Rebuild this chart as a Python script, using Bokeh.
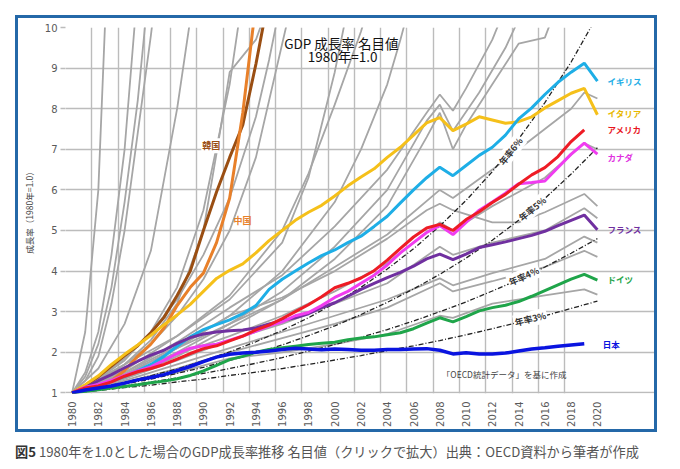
import math
from bokeh.plotting import figure
from bokeh.layouts import column
from bokeh.models import Range1d, FixedTicker, Label, Div
from bokeh.embed import file_html
from bokeh.resources import INLINE

# ---------------- data (ratio to 1980 = 1.0) ----------------
YEARS = list(range(1980, 2021))
YEARS_TO_2019 = list(range(1980, 2020))

japan = [1.00, 1.07, 1.12, 1.17, 1.24, 1.32, 1.38, 1.45, 1.55, 1.65, 1.77, 1.88, 1.95, 1.98, 2.00,
         2.03, 2.07, 2.10, 2.08, 2.06, 2.08, 2.07, 2.05, 2.05, 2.07, 2.07, 2.08, 2.09, 2.05, 1.96,
         1.99, 1.96, 1.96, 1.98, 2.03, 2.08, 2.11, 2.15, 2.18, 2.21]
germany = [1.00, 1.04, 1.08, 1.12, 1.16, 1.20, 1.25, 1.29, 1.35, 1.43, 1.54, 1.68, 1.82, 1.90, 2.00,
           2.07, 2.11, 2.15, 2.19, 2.22, 2.25, 2.31, 2.35, 2.38, 2.43, 2.48, 2.58, 2.72, 2.85, 2.75,
           2.88, 3.02, 3.10, 3.16, 3.25, 3.38, 3.52, 3.66, 3.80, 3.92, 3.78]
france = [1.00, 1.13, 1.30, 1.45, 1.62, 1.78, 1.93, 2.05, 2.22, 2.36, 2.45, 2.50, 2.53, 2.55, 2.60,
          2.70, 2.78, 2.85, 2.95, 3.10, 3.22, 3.38, 3.55, 3.70, 3.84, 3.97, 4.12, 4.30, 4.42, 4.28,
          4.42, 4.58, 4.65, 4.72, 4.80, 4.88, 4.98, 5.12, 5.25, 5.38, 5.02]
canada = [1.00, 1.14, 1.21, 1.31, 1.43, 1.54, 1.64, 1.80, 1.97, 2.10, 2.16, 2.20, 2.30, 2.40, 2.52,
          2.65, 2.75, 2.90, 2.98, 3.15, 3.35, 3.50, 3.70, 3.90, 4.15, 4.45, 4.70, 4.95, 5.12, 4.90,
          5.20, 5.50, 5.70, 5.92, 6.15, 6.18, 6.22, 6.55, 6.88, 7.15, 6.88]
usa = [1.00, 1.12, 1.17, 1.27, 1.41, 1.52, 1.60, 1.70, 1.83, 1.97, 2.09, 2.16, 2.28, 2.40, 2.55,
       2.67, 2.83, 3.00, 3.17, 3.37, 3.59, 3.70, 3.83, 4.01, 4.27, 4.56, 4.84, 5.06, 5.15, 5.00,
       5.27, 5.46, 5.69, 5.89, 6.14, 6.37, 6.55, 6.82, 7.19, 7.48]
italy = [1.00, 1.20, 1.42, 1.70, 1.95, 2.18, 2.42, 2.68, 2.92, 3.18, 3.50, 3.82, 4.02, 4.18, 4.45,
         4.75, 5.00, 5.25, 5.45, 5.62, 5.85, 6.10, 6.32, 6.52, 6.80, 7.05, 7.35, 7.65, 7.78, 7.46,
         7.62, 7.80, 7.72, 7.64, 7.68, 7.80, 8.02, 8.20, 8.38, 8.50, 7.85]
uk = [1.00, 1.09, 1.19, 1.29, 1.40, 1.55, 1.70, 1.90, 2.15, 2.38, 2.56, 2.68, 2.80, 2.95, 3.15,
      3.55, 3.80, 4.00, 4.20, 4.38, 4.52, 4.70, 4.86, 5.10, 5.35, 5.68, 6.00, 6.30, 6.56, 6.35,
      6.60, 6.85, 7.05, 7.35, 7.75, 8.02, 8.35, 8.65, 8.90, 9.12, 8.68]
KOREA_YEARS = list(range(1980, 1996))
korea = [1.00, 1.18, 1.40, 1.66, 1.92, 2.16, 2.48, 2.86, 3.40, 4.00, 5.00, 5.95, 6.80, 7.60, 9.10, 10.80]
CHINA_YEARS = list(range(1980, 1995))
china = [1.00, 1.06, 1.15, 1.30, 1.55, 1.90, 2.20, 2.60, 3.15, 3.60, 3.95, 4.70, 5.80, 7.90, 10.60]

# reference annual-rate lines, read every two years
RATE_YEARS = list(range(1980, 2021, 2))
rate6 = [1.00, 1.12, 1.26, 1.42, 1.59, 1.79, 2.01, 2.26, 2.54, 2.85, 3.21, 3.60, 4.05, 4.55, 5.11,
         5.74, 6.45, 7.25, 8.15, 9.15, 10.29]
rate5 = [1.00, 1.10, 1.22, 1.34, 1.48, 1.63, 1.80, 1.98, 2.18, 2.41, 2.65, 2.93, 3.23, 3.56, 3.92,
         4.32, 4.76, 5.25, 5.79, 6.39, 7.04]
rate4 = [1.00, 1.08, 1.17, 1.27, 1.37, 1.48, 1.60, 1.73, 1.87, 2.03, 2.19, 2.37, 2.56, 2.77, 3.00,
         3.24, 3.51, 3.79, 4.10, 4.44, 4.80]
rate3 = [1.00, 1.06, 1.13, 1.19, 1.27, 1.34, 1.43, 1.51, 1.60, 1.70, 1.81, 1.92, 2.04, 2.16, 2.29,
         2.43, 2.58, 2.74, 2.90, 3.08, 3.26]

# other OECD countries (grey)
oth_s1_x = [1980, 1981, 1982, 1983]
oth_s1_y = [1.0, 2.5, 6.0, 14.0]
oth_s2_x = [1980, 1981, 1982, 1983, 1984, 1985]
oth_s2_y = [1.0, 1.5, 2.5, 4.4, 7.0, 11.0]
oth_s3_x = [1980, 1981, 1982, 1983, 1984, 1985, 1986]
oth_s3_y = [1.0, 1.4, 2.2, 3.6, 5.7, 8.2, 11.5]
oth_s4_x = [1980, 1981, 1982, 1983, 1984, 1985, 1986, 1987]
oth_s4_y = [1.0, 1.3, 1.9, 3.2, 5.0, 7.4, 9.8, 12.5]
oth_s5_x = [1980, 1982, 1984, 1986, 1988, 1989, 1990]
oth_s5_y = [1.0, 1.6, 2.7, 4.5, 8.0, 10.2, 12.5]
oth_m1_x = [1980, 1982, 1984, 1986, 1988, 1990, 1992, 1993]
oth_m1_y = [1.0, 1.35, 1.8, 2.5, 3.6, 5.5, 8.6, 10.8]
oth_m2_x = [1980, 1982, 1984, 1986, 1988, 1990, 1991, 1992, 1993, 1994, 1995]
oth_m2_y = [1.0, 1.3, 1.7, 2.3, 3.2, 5.0, 6.9, 8.9, 9.3, 9.7, 10.6]
oth_m3_x = [1980, 1982, 1984, 1986, 1988, 1990, 1992, 1994, 1995, 1996]
oth_m3_y = [1.0, 1.35, 1.85, 2.5, 3.3, 4.4, 5.8, 7.8, 9.2, 10.8]
oth_m4_x = [1980, 1982, 1984, 1986, 1988, 1990, 1992, 1994, 1996, 1997]
oth_m4_y = [1.0, 1.3, 1.7, 2.2, 2.9, 3.8, 5.0, 6.8, 9.6, 11.0]
oth_m5_x = [1980, 1984, 1988, 1992, 1996, 1998, 2000, 2002, 2003]
oth_m5_y = [1.0, 1.55, 2.4, 3.4, 5.0, 6.4, 8.1, 9.9, 11.0]
oth_m6_x = [1980, 1984, 1988, 1992, 1996, 2000, 2002, 2004, 2005, 2006]
oth_m6_y = [1.0, 1.45, 2.1, 2.9, 4.0, 5.7, 7.0, 8.6, 9.7, 10.9]
oth_m7_x = [1980, 1984, 1988, 1992, 1996, 1998, 2000, 2001]
oth_m7_y = [1.0, 1.7, 2.4, 3.3, 4.7, 6.3, 8.9, 10.5]
oth_b1_x = [1980, 1984, 1988, 1992, 1996, 2000, 2004, 2007, 2008, 2009, 2010, 2012, 2013]
oth_b1_y = [1.0, 1.5, 2.25, 3.1, 3.9, 5.1, 6.5, 7.9, 8.35, 7.95, 8.5, 9.7, 10.5]
oth_b2_x = [1980, 1984, 1988, 1992, 1996, 2000, 2004, 2007, 2008, 2009, 2011, 2013, 2014]
oth_b2_y = [1.0, 1.4, 2.0, 2.7, 3.5, 4.6, 6.0, 7.7, 8.1, 7.45, 8.4, 9.5, 10.2]
oth_b3_x = [1980, 1984, 1988, 1992, 1996, 2000, 2004, 2007, 2008, 2009, 2010, 2012, 2014, 2016, 2017]
oth_b3_y = [1.0, 1.35, 1.9, 2.6, 3.3, 4.3, 5.6, 7.3, 7.9, 7.0, 7.6, 8.6, 9.6, 9.75, 10.6]
oth_b4_x = [1980, 1984, 1988, 1992, 1996, 2000, 2004, 2008, 2009, 2012, 2014, 2016, 2018, 2019, 2020]
oth_b4_y = [1.0, 1.45, 2.1, 2.7, 3.3, 4.1, 4.9, 6.0, 5.8, 6.5, 7.0, 7.5, 8.0, 8.4, 8.25]
oth_e1_x = [1980, 1984, 1988, 1992, 1996, 2000, 2004, 2008, 2009, 2012, 2016, 2019, 2020]
oth_e1_y = [1.0, 1.4, 1.95, 2.4, 2.9, 3.5, 4.2, 5.2, 5.0, 5.6, 6.3, 7.15, 7.0]
oth_e2_x = [1980, 1984, 1988, 1992, 1996, 2000, 2004, 2007, 2008, 2009, 2012, 2014, 2016, 2019, 2020]
oth_e2_y = [1.0, 1.5, 2.15, 2.9, 3.35, 4.0, 4.8, 5.5, 5.66, 5.5, 5.2, 5.2, 5.45, 5.9, 5.6]
oth_e3_x = [1980, 1984, 1988, 1992, 1996, 2000, 2004, 2008, 2009, 2012, 2016, 2019, 2020]
oth_e3_y = [1.0, 1.35, 1.8, 2.3, 2.7, 3.2, 3.7, 4.6, 4.4, 4.7, 5.0, 5.55, 5.3]
oth_e4_x = [1980, 1984, 1988, 1992, 1996, 2000, 2004, 2008, 2009, 2012, 2016, 2019, 2020]
oth_e4_y = [1.0, 1.3, 1.7, 2.1, 2.5, 2.9, 3.3, 3.82, 3.65, 3.95, 4.3, 4.85, 4.7]
oth_e5_x = [1980, 1984, 1988, 1992, 1996, 2000, 2004, 2008, 2009, 2012, 2016, 2019, 2020]
oth_e5_y = [1.0, 1.25, 1.6, 2.0, 2.35, 2.7, 3.1, 3.7, 3.5, 3.75, 4.1, 4.5, 4.35]
oth_e6_x = [1980, 1984, 1988, 1992, 1996, 2000, 2004, 2008, 2009, 2012, 2016, 2019, 2020]
oth_e6_y = [1.0, 1.25, 1.5, 1.85, 2.0, 2.2, 2.45, 2.9, 2.85, 3.2, 3.4, 3.55, 3.42]

others = [
    (oth_s1_x, oth_s1_y), (oth_s2_x, oth_s2_y), (oth_s3_x, oth_s3_y), (oth_s4_x, oth_s4_y),
    (oth_s5_x, oth_s5_y), (oth_m1_x, oth_m1_y), (oth_m2_x, oth_m2_y), (oth_m3_x, oth_m3_y),
    (oth_m4_x, oth_m4_y), (oth_m5_x, oth_m5_y), (oth_m6_x, oth_m6_y), (oth_m7_x, oth_m7_y),
    (oth_b1_x, oth_b1_y), (oth_b2_x, oth_b2_y), (oth_b3_x, oth_b3_y), (oth_b4_x, oth_b4_y),
    (oth_e1_x, oth_e1_y), (oth_e2_x, oth_e2_y), (oth_e3_x, oth_e3_y), (oth_e4_x, oth_e4_y),
    (oth_e5_x, oth_e5_y), (oth_e6_x, oth_e6_y),
]

X_TICKS = list(range(1980, 2021, 2))
Y_TICKS = list(range(1, 11))

# ---------------- figure ----------------
JP = "Noto Sans CJK JP"
p = figure(width=642, height=417, x_range=Range1d(1979.5, 2024.5), y_range=Range1d(0.985, 10.0),
           output_backend="svg", toolbar_location=None,
           min_border_left=47, min_border_right=4, min_border_top=9, min_border_bottom=42)
p.background_fill_color = "white"
p.border_fill_color = "white"
p.outline_line_color = None
p.margin = (15, 0, 0, 15)
p.styles = {"border": "3px solid #2468a8"}

p.xaxis.ticker = FixedTicker(ticks=X_TICKS)
p.xgrid.ticker = FixedTicker(ticks=[t - 0.5 for t in X_TICKS[:-1]])
p.yaxis.ticker = FixedTicker(ticks=Y_TICKS)
p.ygrid.ticker = FixedTicker(ticks=Y_TICKS)
for g in (p.xgrid, p.ygrid):
    g.grid_line_color = "#bcbcbc"
    g.grid_line_width = 1.4

p.xaxis.major_label_orientation = math.pi / 2
p.xaxis.major_tick_out = 0
p.xaxis.major_tick_in = 0
p.xaxis.minor_tick_line_color = None
p.xaxis.axis_line_color = None
p.xaxis.major_label_standoff = 8
p.xaxis.major_label_text_font = "DejaVu Sans"
p.xaxis.major_label_text_font_size = "10px"
p.xaxis.major_label_text_color = "#5a5a5a"

p.yaxis.major_tick_out = 5
p.yaxis.major_tick_in = 0
p.yaxis.major_tick_line_color = "#bcbcbc"
p.yaxis.major_tick_line_width = 1.4
p.yaxis.minor_tick_line_color = None
p.yaxis.axis_line_color = None
p.yaxis.major_label_standoff = 3
p.yaxis.major_label_text_font = "DejaVu Sans"
p.yaxis.major_label_text_font_size = "10px"
p.yaxis.major_label_text_color = "#5a5a5a"
p.yaxis.axis_label = "成長率（1980年=1.0）"
p.yaxis.axis_label_text_font = JP
p.yaxis.axis_label_text_font_size = "8.5px"
p.yaxis.axis_label_text_font_style = "normal"
p.yaxis.axis_label_text_color = "#444444"
p.yaxis.axis_label_standoff = 7

# white boxes above the grid, below the lines: title, note, label margin at the right
p.quad(left=[1995.9, 2007.9, 2020.62], right=[2005.2, 2017.9, 2024.6],
       bottom=[9.05, 1.23, 0.9], top=[10.0, 1.65, 10.1],
       fill_color="white", line_color=None, level="underlay")

for xs, ys in others:
    p.line(xs, ys, line_color="#a6a6a6", line_width=1.8)

for vals in (rate6, rate5, rate4, rate3):
    p.line(RATE_YEARS, vals, line_color="#222222", line_width=1.3, line_dash="5 2 1 2")

p.line(KOREA_YEARS, korea, line_color="#9a4e12", line_width=3)
p.line(CHINA_YEARS, china, line_color="#e8802a", line_width=3)
p.line(YEARS, italy, line_color="#f5c01a", line_width=3)
p.line(YEARS, uk, line_color="#1eaee6", line_width=3)
p.line(YEARS, france, line_color="#7030a0", line_width=3)
p.line(YEARS, canada, line_color="#f03cf0", line_width=3)
p.line(YEARS_TO_2019, usa, line_color="#ee1c25", line_width=3)
p.line(YEARS, germany, line_color="#1fa54a", line_width=3)
p.line(YEARS_TO_2019, japan, line_color="#0a14e0", line_width=3.5)

def lab(text, x, y, color, size="8.5px", style="bold", align="left", angle=0.0, bg=None, font=JP):
    l = Label(x=x, y=y, text=text, text_color=color, text_font=font, text_font_size=size,
              text_font_style=style, text_align=align, text_baseline="middle", angle=angle)
    if bg:
        l.background_fill_color = bg
        l.padding = 1
    p.add_layout(l)

# series names
lab("イギリス", 2020.77, 8.69, "#1eaee6")
lab("イタリア", 2020.77, 7.90, "#e8b800")
lab("アメリカ", 2020.77, 7.49, "#e8161e")
lab("カナダ", 2020.77, 6.80, "#e030e0")
lab("フランス", 2020.77, 5.04, "#7030a0")
lab("ドイツ", 2020.77, 3.81, "#1fa54a")
lab("日本", 2020.40, 2.21, "#0a14e0")
lab("韓国", 1990.6, 7.09, "#9a4e12", size="9px", align="center", bg="white")
lab("中国", 1992.97, 5.25, "#e8802a", size="9px", align="center")

# rate labels
lab("年率6%", 2013.4, 6.95, "#333333", size="9px", align="center", angle=math.radians(52), bg="white")
lab("年率5%", 2015.05, 5.53, "#333333", size="9px", align="center", angle=math.radians(39), bg="white")
lab("年率4%", 2014.4, 3.87, "#333333", size="9px", align="center", angle=math.radians(24), bg="white")
lab("年率3%", 2014.9, 2.82, "#333333", size="9px", align="center", angle=math.radians(14), bg="white")

# title and note
lab("GDP 成長率 名目値", 2000.5, 9.63, "#111111", size="13.5px", style="normal", align="center")
lab("1980年=1.0", 2000.6, 9.29, "#111111", size="13.5px", style="normal", align="center")
lab("「OECD統計データ」を基に作成", 2012.9, 1.47, "#444444", size="8.5px", style="normal", align="center")

caption = Div(
    text='<span style="font-weight:bold;color:#333">図5</span> '
         '1980年を1.0とした場合のGDP成長率推移 名目値（クリックで拡大）出典：OECD資料から筆者が作成',
    width=660, height=20, margin=(12, 0, 0, 15),
    styles={"font-family": "'Noto Sans CJK JP', sans-serif", "font-size": "13.2px",
            "color": "#555555", "white-space": "nowrap", "line-height": "16px"})

layout = column(p, caption, spacing=0)
open("out.html", "w").write(file_html(layout, INLINE))
